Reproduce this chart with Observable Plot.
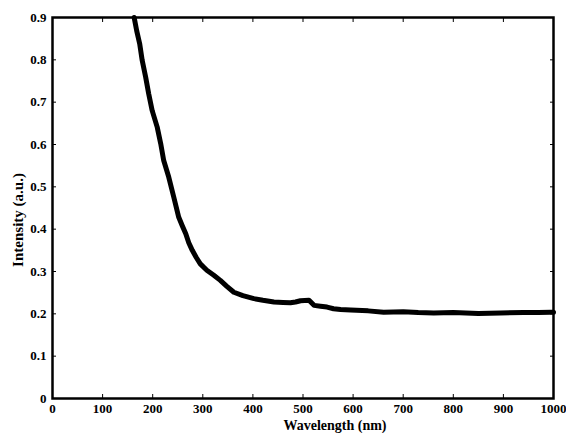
<!DOCTYPE html>
<html>
<head>
<meta charset="utf-8">
<script src="https://cdn.jsdelivr.net/npm/d3@7"></script>
<script src="https://cdn.jsdelivr.net/npm/@observablehq/plot@0.6"></script>
<style>
  html, body { margin: 0; padding: 0; background: #fff; }
  svg { font-family: "Liberation Serif", "Times New Roman", serif; }
</style>
</head>
<body>
<div id="chart"></div>
<script>
const wavelength = [163, 168, 174, 179, 186, 192, 199, 209, 216, 222, 232, 242, 252, 259, 266, 272, 279, 287, 295, 308, 322, 335, 348, 362, 380, 402, 420, 442, 460, 475, 485, 495, 512, 517, 522, 535, 548, 561, 575, 595, 630, 661, 700, 730, 761, 800, 850, 894, 940, 970, 994, 1000];
const intensity  = [0.900, 0.869, 0.838, 0.799, 0.759, 0.720, 0.680, 0.641, 0.602, 0.562, 0.523, 0.476, 0.428, 0.408, 0.389, 0.368, 0.350, 0.333, 0.318, 0.303, 0.291, 0.279, 0.265, 0.251, 0.243, 0.236, 0.232, 0.228, 0.227, 0.226, 0.228, 0.231, 0.232, 0.226, 0.220, 0.218, 0.216, 0.212, 0.210, 0.209, 0.207, 0.204, 0.205, 0.203, 0.202, 0.203, 0.201, 0.202, 0.203, 0.203, 0.204, 0.204];
const xTicks = [0, 100, 200, 300, 400, 500, 600, 700, 800, 900, 1000];
const yTicks = [0, 0.1, 0.2, 0.3, 0.4, 0.5, 0.6, 0.7, 0.8, 0.9];
const xTitle = "Wavelength (nm)";
const yTitle = "Intensity (a.u.)";

const data = wavelength.map((w, i) => ({w, v: intensity[i]}));
const fmtY = d => d === 0 ? "0" : d.toFixed(1);
const fmtX = d => String(d);

const chart = Plot.plot({
  width: 566,
  height: 433,
  marginLeft: 52,
  marginRight: 13,
  marginTop: 17,
  marginBottom: 35,
  style: {fontFamily: "'Liberation Serif', 'Times New Roman', serif", fontWeight: "bold", fontSize: "13px", color: "#000", background: "#fff"},
  x: {domain: [0, 1000]},
  y: {domain: [0, 0.9]},
  marks: [
    Plot.axisX(xTicks, {anchor: "bottom", tickSize: -4, tickPadding: 9, tickFormat: fmtX, strokeWidth: 1, fontSize: 13, fontWeight: "bold", label: null}),
    Plot.axisX(xTicks, {anchor: "top", tickSize: -4, text: null, label: null, strokeWidth: 1}),
    Plot.axisY(yTicks, {anchor: "left", tickSize: -4, tickPadding: 10, tickFormat: fmtY, strokeWidth: 1, fontSize: 13, fontWeight: "bold", label: null}),
    Plot.axisY(yTicks, {anchor: "right", tickSize: -4, text: null, label: null, strokeWidth: 1}),
    Plot.text([xTitle], {frameAnchor: "bottom", text: d => d, textAnchor: "middle", lineAnchor: "middle", dx: 32, dy: 27, fontSize: 14, fontWeight: "bold", fill: "#000"}),
    Plot.text([yTitle], {frameAnchor: "left", text: d => d, textAnchor: "middle", lineAnchor: "middle", rotate: -90, dx: -34, dy: 12, fontSize: 15, fontWeight: "bold", fill: "#000"}),
    Plot.line(data, {x: "w", y: "v", stroke: "#000", strokeWidth: 5, curve: "linear", strokeLinejoin: "round"}),
    Plot.frame({stroke: "#000", strokeWidth: 2.5})
  ]
});
document.getElementById("chart").appendChild(chart);
</script>
</body>
</html>
